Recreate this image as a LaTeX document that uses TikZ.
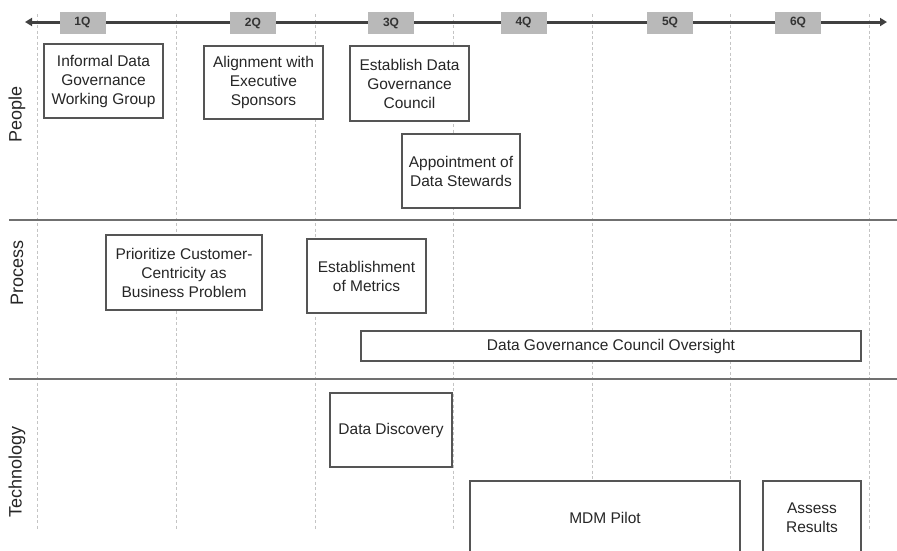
\documentclass[tikz,border=0pt]{standalone}
\usepackage{fontspec}
\setmainfont{Liberation Sans}
\usetikzlibrary{arrows.meta}
\definecolor{boxline}{HTML}{555555}
\definecolor{qfill}{HTML}{B9B9B9}
\definecolor{gridline}{HTML}{C4C4C4}
\definecolor{sepline}{HTML}{707070}
\definecolor{axisline}{HTML}{404040}
\begin{document}
\begin{tikzpicture}[x=1pt,y=-1pt,
  task/.style={draw=boxline,line width=1.1pt,fill=white,align=center,inner sep=1pt,
    font=\fontsize{15.5}{19}\selectfont,text=black!85},
  quarter/.style={fill=qfill,minimum width=46pt,minimum height=22pt,inner sep=0pt,
    font=\fontsize{12}{13}\selectfont\bfseries,text=black!80},
  lane/.style={rotate=90,font=\fontsize{18}{20}\selectfont,text=black!85},
  grid/.style={draw=gridline,line width=0.7pt,dash pattern=on 3pt off 2.5pt},
  sep/.style={draw=sepline,line width=1.4pt}]
\useasboundingbox (0,0) rectangle (897,550);
\clip (0,0) rectangle (897,550);

% quarter grid
\foreach \gx in {37,176,315,453,592,730,869}
  \draw[grid] (\gx,14) -- (\gx,530);

% lane separators
\coordinate (s1a) at (9,220);  \coordinate (s1b) at (897,220);
\coordinate (s2a) at (9,379);  \coordinate (s2b) at (897,379);
\draw[sep] (s1a) -- (s1b);
\draw[sep] (s2a) -- (s2b);

% time axis
\coordinate (axL) at (25,22);
\coordinate (axR) at (887,22);
\draw[axisline,line width=3pt,{Triangle[length=7pt,width=8pt]}-{Triangle[length=7pt,width=8pt]}] (axL) -- (axR);
\node[quarter] (q1) at (82.5,22.5) {1Q};
\node[quarter] (q2) at (253,23) {2Q};
\node[quarter] (q3) at (391,23) {3Q};
\node[quarter] (q4) at (523.5,22.5) {4Q};
\node[quarter] (q5) at (670,22.5) {5Q};
\node[quarter] (q6) at (798,22.5) {6Q};

% lane titles
\node[lane] (people) at (17,114) {People};
\node[lane] (process) at (17,273) {Process};
\node[lane] (tech) at (17,472) {Technology};

% People
\node[task,minimum width=119pt,minimum height=74pt] (inf) at (103.5,81)
  {Informal Data\\Governance\\Working Group};
\node[task,minimum width=119pt,minimum height=73pt] (align) at (263.5,82.5)
  {Alignment with\\Executive\\Sponsors};
\node[task,minimum width=119pt,minimum height=75pt] (council) at (409.5,83.5)
  {Establish Data\\Governance\\Council};
\node[task,minimum width=118pt,minimum height=74pt] (stew) at (461,171)
  {Appointment of\\Data Stewards};

% Process
\node[task,minimum width=156pt,minimum height=75pt] (prio) at (184,272.5)
  {Prioritize Customer-\\Centricity as\\Business Problem};
\node[task,minimum width=119pt,minimum height=74pt] (metr) at (366.5,276)
  {Establishment\\of Metrics};
\node[task,minimum width=500pt,minimum height=30pt] (over) at (611,346)
  {Data Governance Council Oversight};

% Technology
\node[task,minimum width=122pt,minimum height=74pt] (disc) at (391,430)
  {Data Discovery};
\node[task,minimum width=270pt,minimum height=74pt] (mdm) at (605,518)
  {MDM Pilot};
\node[task,minimum width=98pt,minimum height=74pt] (assess) at (812,518)
  {Assess\\Results};
\end{tikzpicture}
\end{document}
